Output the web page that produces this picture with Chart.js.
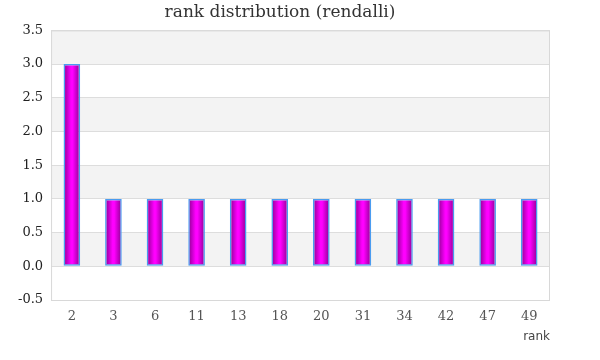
<!DOCTYPE html>
<html>
<head>
<meta charset="utf-8">
<script src="https://cdn.jsdelivr.net/npm/chart.js@4"></script>
<style>
  body { margin: 0; background: #fff; }
  #wrap { width: 600px; height: 360px; }
</style>
</head>
<body>
<div id="wrap"><canvas id="myChart"></canvas></div>
<script>
let ranks = ['2', '3', '6', '11', '13', '18', '20', '31', '34', '42', '47', '49'];
let counts = [3, 1, 1, 1, 1, 1, 1, 1, 1, 1, 1, 1];
let yTicks = [-0.5, 0, 0.5, 1, 1.5, 2, 2.5, 3, 3.5];

const serif = 'Georgia, "DejaVu Serif", serif';

// alternating bands + plot frame
const bands = {
    id: 'bands',
    beforeDraw(chart) {
        let ctx = chart.ctx;
        let a = chart.chartArea;
        let y = chart.scales.y;
        ctx.save();
        for (let i = 0; i < yTicks.length - 1; i++) {
            let top = y.getPixelForValue(yTicks[i + 1]);
            let bot = y.getPixelForValue(yTicks[i]);
            ctx.fillStyle = (i % 2 === 1) ? '#f3f3f3' : '#ffffff';
            ctx.fillRect(a.left, top, a.right - a.left, bot - top);
        }
        ctx.restore();
    },
    afterDraw(chart) {
        let ctx = chart.ctx;
        let a = chart.chartArea;
        ctx.save();
        ctx.strokeStyle = '#d8d8d8';
        ctx.lineWidth = 1;
        ctx.strokeRect(a.left + 0.5, a.top + 0.5, a.right - a.left - 1, a.bottom - a.top);
        ctx.restore();
    }
};

function barGradient(context) {
    let chart = context.chart;
    let x = chart.scales.x;
    if (!x || !chart.chartArea) return '#d000d0';
    let cx = x.getPixelForValue(context.dataIndex);
    let w = (chart.chartArea.right - chart.chartArea.left) / ranks.length * 0.4;
    let g = chart.ctx.createLinearGradient(cx - w / 2, 0, cx + w / 2, 0);
    g.addColorStop(0, '#8c0090');
    g.addColorStop(0.45, '#ff00ff');
    g.addColorStop(0.55, '#ff00ff');
    g.addColorStop(1, '#8c0090');
    return g;
}

let ctx = document.getElementById('myChart').getContext('2d');
let chart = new Chart(ctx, {
    type: 'bar',
    data: {
        labels: ranks,
        datasets: [{
            data: counts,
            backgroundColor: barGradient,
            borderColor: '#4a9cf0',
            borderWidth: 1.5,
            borderSkipped: false,
            barPercentage: 0.4,
            categoryPercentage: 1
        }]
    },
    options: {
        responsive: true,
        maintainAspectRatio: false,
        animation: false,
        layout: { padding: { left: 10, right: 50, top: 2, bottom: 16 } },
        plugins: {
            legend: { display: false },
            tooltip: { enabled: false },
            title: {
                display: true,
                text: 'rank distribution (rendalli)',
                color: '#333',
                font: { family: serif, size: 17, weight: 'normal' },
                padding: { top: 0, bottom: 8 }
            }
        },
        scales: {
            x: {
                grid: { display: false },
                border: { display: false },
                ticks: {
                    color: '#555',
                    font: { family: serif, size: 13 },
                    padding: 1
                },
                title: {
                    display: true,
                    text: 'rank',
                    align: 'end',
                    color: '#444',
                    font: { family: '"DejaVu Sans", sans-serif', size: 12 },
                    padding: { top: 4, bottom: 0 }
                }
            },
            y: {
                min: -0.5,
                max: 3.5,
                grid: { color: '#dddddd', drawTicks: false },
                border: { display: false },
                ticks: {
                    stepSize: 0.5,
                    color: '#222',
                    font: { family: serif, size: 13 },
                    padding: 8,
                    callback: v => v.toFixed(1)
                }
            }
        }
    },
    plugins: [bands]
});
</script>
</body>
</html>
